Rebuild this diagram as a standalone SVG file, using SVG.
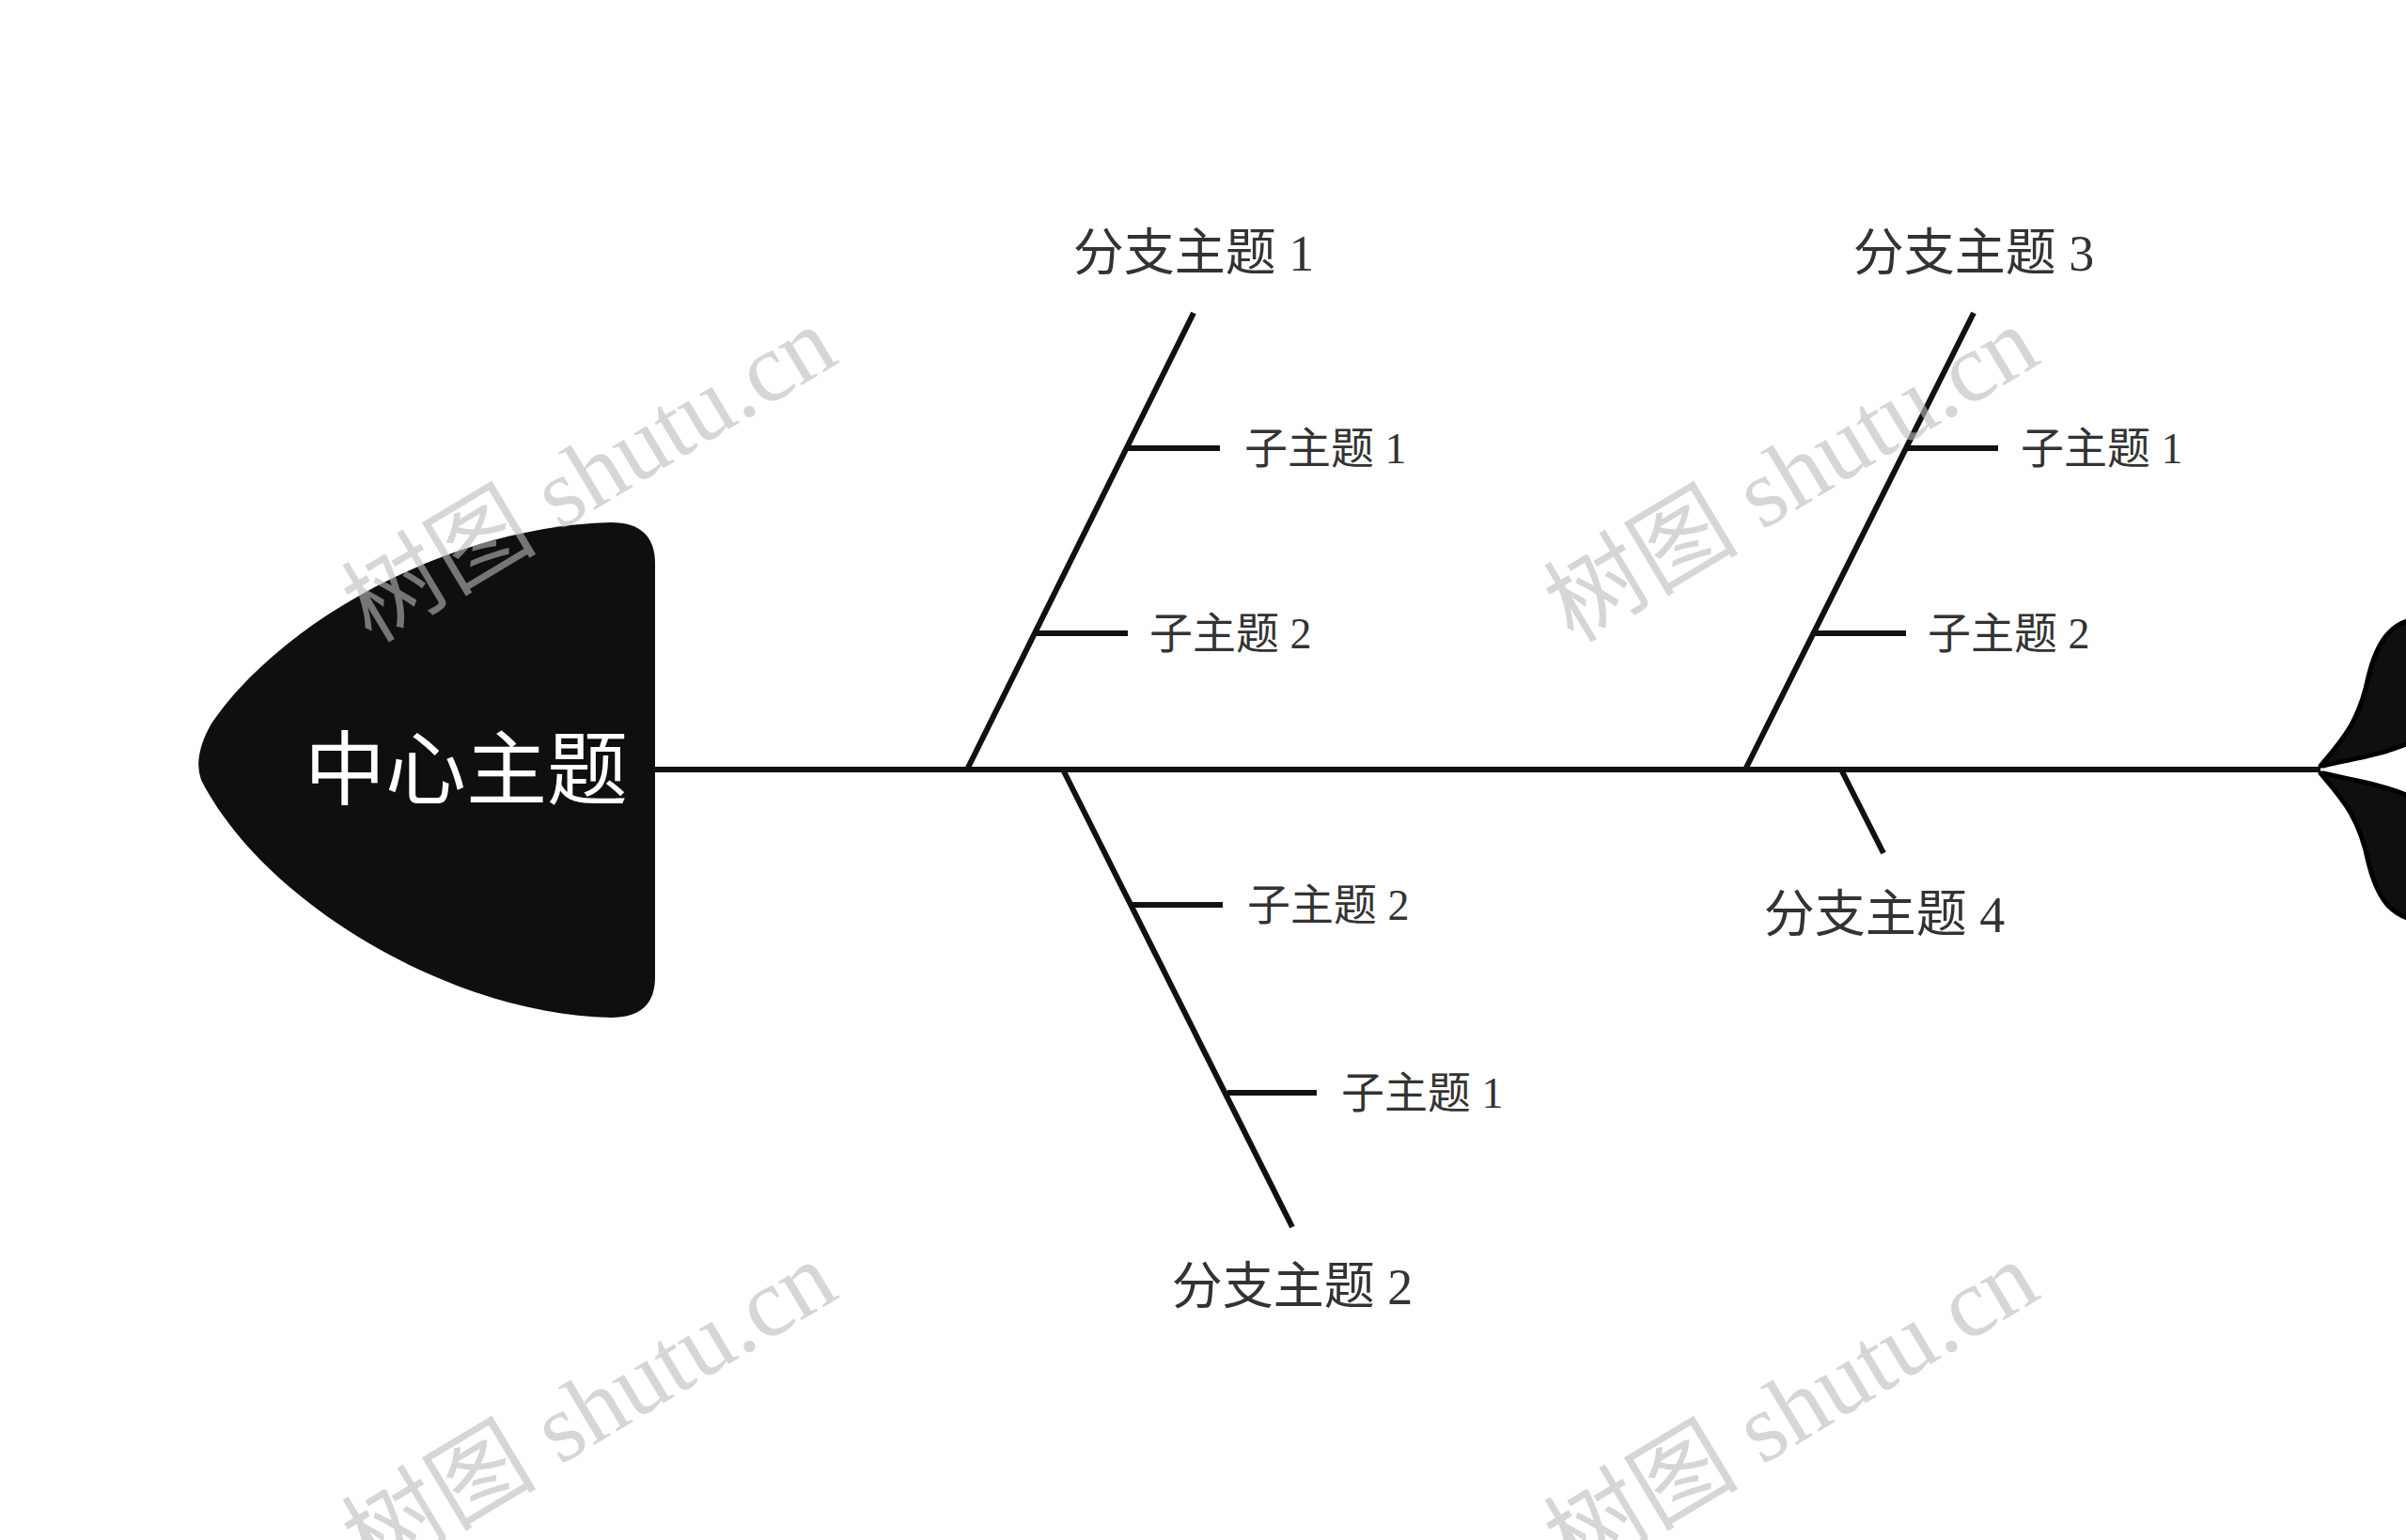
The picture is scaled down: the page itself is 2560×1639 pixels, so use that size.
<svg xmlns="http://www.w3.org/2000/svg" width="2560" height="1639" viewBox="0 0 2560 1639">
<style>
.ln{stroke:#111;stroke-width:6;fill:none;stroke-linecap:butt}
.t{font-family:"Liberation Serif","Noto Sans CJK SC",serif;fill:#333}
.b{font-size:54px;text-anchor:middle}
.s{font-size:46px}
.wm{font-family:"Liberation Serif","Noto Sans CJK SC",serif;font-size:104px;fill:#bbb;opacity:0.6;text-anchor:middle}
</style>
<rect width="2560" height="1639" fill="#fff"/>
<g id="connectors">
<line class="ln" x1="697" y1="819" x2="2469" y2="819"/>
<line class="ln" x1="1029" y1="819" x2="1270" y2="333"/>
<line class="ln" x1="1200" y1="477" x2="1298" y2="477"/>
<line class="ln" x1="1102" y1="674" x2="1200" y2="674"/>
<line class="ln" x1="1132" y1="821" x2="1375" y2="1306"/>
<line class="ln" x1="1203" y1="963" x2="1301" y2="963"/>
<line class="ln" x1="1306" y1="1163" x2="1401" y2="1163"/>
<line class="ln" x1="1857" y1="819" x2="2100" y2="333"/>
<line class="ln" x1="2030" y1="477" x2="2126" y2="477"/>
<line class="ln" x1="1930" y1="674" x2="2028" y2="674"/>
<line class="ln" x1="1960" y1="821" x2="2004" y2="908"/>
</g>
<g id="head">
<path d="M697,600 Q697,556 650,556 C480,560 300,660 225,770 Q205,805 214,830 C280,960 480,1080 650,1083 Q697,1083 697,1040 Z" fill="#0f0f0f"/>
<text x="668" y="850" font-family="Noto Sans CJK SC,sans-serif" font-size="86" fill="#fff" text-anchor="end">中心主题</text>
</g>
<g id="tail">
<path d="M2469,815 C2490,790 2510,770 2520,720 C2530,680 2545,665 2565,660 L2565,790 C2530,805 2500,808 2472,815 Z" fill="#0f0f0f" stroke="#000" stroke-width="5" stroke-linejoin="round"/>
<path d="M2469,823 C2490,848 2510,868 2520,918 C2530,958 2545,973 2565,978 L2565,848 C2530,833 2500,830 2472,823 Z" fill="#0f0f0f" stroke="#000" stroke-width="5" stroke-linejoin="round"/>
</g>
<g id="b1"><text class="t b" x="1270" y="288">分支主题 1</text></g>
<g id="b1s1"><text class="t s" x="1324" y="493">子主题 1</text></g>
<g id="b1s2"><text class="t s" x="1223" y="690">子主题 2</text></g>
<g id="b2"><text class="t b" x="1375" y="1388">分支主题 2</text></g>
<g id="b2s2"><text class="t s" x="1327" y="979">子主题 2</text></g>
<g id="b2s1"><text class="t s" x="1427" y="1179">子主题 1</text></g>
<g id="b3"><text class="t b" x="2100" y="288">分支主题 3</text></g>
<g id="b3s1"><text class="t s" x="2150" y="493">子主题 1</text></g>
<g id="b3s2"><text class="t s" x="2051" y="690">子主题 2</text></g>
<g id="b4"><text class="t b" x="2005" y="992">分支主题 4</text></g>
<g id="watermarks">
<text class="wm" transform="translate(645,535) rotate(-31)">树图 shutu.cn</text>
<text class="wm" transform="translate(1924,535) rotate(-31)">树图 shutu.cn</text>
<text class="wm" transform="translate(645,1530) rotate(-31)">树图 shutu.cn</text>
<text class="wm" transform="translate(1924,1530) rotate(-31)">树图 shutu.cn</text>
</g>
</svg>
